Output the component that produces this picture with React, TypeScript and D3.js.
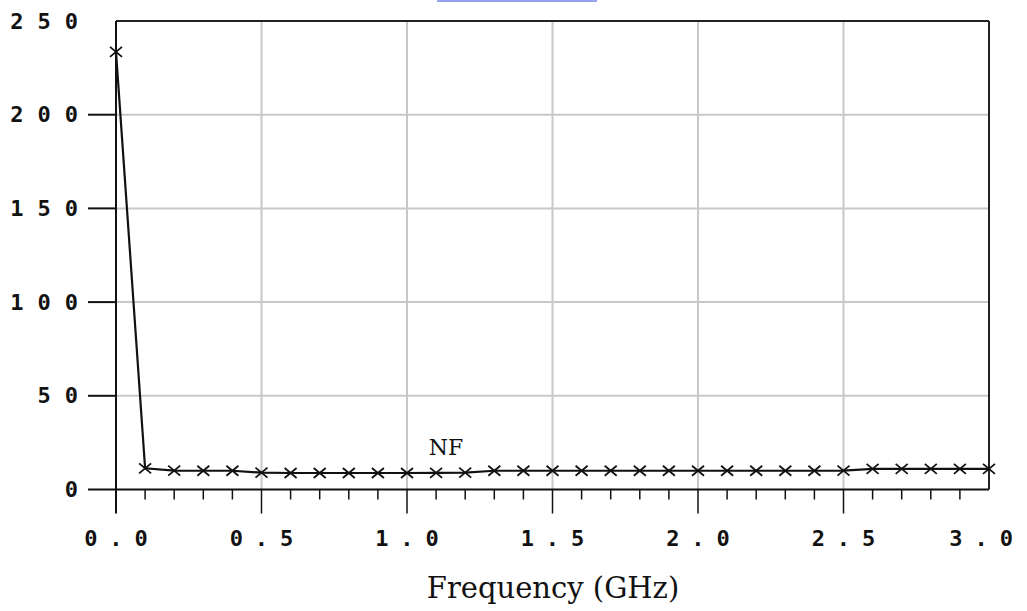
import React from "react";
import * as d3 from "d3";

// Noise figure vs frequency
const freqs = [
  0.0, 0.1, 0.2, 0.3, 0.4, 0.5, 0.6, 0.7, 0.8, 0.9, 1.0, 1.1, 1.2, 1.3, 1.4, 1.5,
  1.6, 1.7, 1.8, 1.9, 2.0, 2.1, 2.2, 2.3, 2.4, 2.5, 2.6, 2.7, 2.8, 2.9, 3.0,
];
const nfValues = [
  233.5, 11.3, 10.1, 10.0, 10.0, 9.0, 8.8, 8.8, 8.8, 8.8, 8.8, 8.9, 9.0, 10.0, 10.0, 10.0,
  10.0, 10.0, 10.0, 10.0, 10.0, 10.0, 10.0, 10.0, 10.0, 10.1, 11.0, 11.0, 11.0, 11.0, 11.0,
];
const yTicks = [0, 50, 100, 150, 200, 250];
const xTicks = [0, 0.5, 1.0, 1.5, 2.0, 2.5, 3.0];
const minorTicks = d3.range(1, 30).map((i) => i / 10);
const seriesName = "NF";
const xTitle = "Frequency (GHz)";

const W = 1027;
const H = 611;
const margin = { top: 21, right: 38, bottom: 121.5, left: 116 };

export default function App() {
  const x = d3
    .scaleLinear()
    .domain([0, 3])
    .range([margin.left, W - margin.right]);
  const y = d3
    .scaleLinear()
    .domain([0, 250])
    .range([H - margin.bottom, margin.top]);

  const line = d3
    .line<number>()
    .x((d, i) => x(freqs[i]))
    .y((d) => y(d));

  const x0 = x(0);
  const x1 = x(3);
  const y0 = y(0);
  const y1 = y(250);
  const labelFont = "'DejaVu Sans Mono', monospace";
  const yLs = 14;
  const xLs = 12;

  return (
    <svg
      width={W}
      height={H}
      style={{ position: "absolute", left: 0, top: 0, background: "#fff" }}
    >
      <rect x={0} y={0} width={W} height={H} fill="#fff" />
      <rect x={437} y={0} width={160} height={2} fill="#94a3ee" />

      {/* grid */}
      {xTicks.slice(1, -1).map((t) => (
        <line key={"gx" + t} x1={x(t)} x2={x(t)} y1={y1} y2={y0} stroke="#c8c8c8" strokeWidth={2} />
      ))}
      {yTicks.slice(1, -1).map((t) => (
        <line key={"gy" + t} x1={x0} x2={x1} y1={y(t)} y2={y(t)} stroke="#c8c8c8" strokeWidth={2} />
      ))}

      {/* frame and axes */}
      <line x1={x0} x2={x1} y1={y1} y2={y1} stroke="#222" strokeWidth={2} />
      <line x1={x1} x2={x1} y1={y1} y2={y0} stroke="#222" strokeWidth={2} />
      <line x1={x0} x2={x0} y1={y1} y2={y0 + 24} stroke="#111" strokeWidth={2} />
      <line x1={x0 - 28} x2={x1} y1={y0} y2={y0} stroke="#111" strokeWidth={2} />

      {yTicks.slice(1, -1).map((t) => (
        <line key={"ty" + t} x1={x0 - 28} x2={x0} y1={y(t)} y2={y(t)} stroke="#111" strokeWidth={2} />
      ))}
      {minorTicks.map((t) => {
        const major = Math.abs(t * 2 - Math.round(t * 2)) < 1e-6;
        return (
          <line
            key={"tx" + t}
            x1={x(t)}
            x2={x(t)}
            y1={y0}
            y2={y0 + (major ? 24 : 10)}
            stroke="#111"
            strokeWidth={1.5}
          />
        );
      })}

      {/* tick labels */}
      {yTicks.map((t) => (
        <text
          key={"ly" + t}
          x={78 + yLs}
          y={y(t)}
          textAnchor="end"
          dominantBaseline="central"
          fontFamily={labelFont}
          fontSize={22}
          fontWeight="bold"
          letterSpacing={yLs}
          fill="#111"
        >
          {String(t)}
        </text>
      ))}
      {xTicks.map((t, i) => {
        const last = i === xTicks.length - 1;
        return (
          <text
            key={"lx" + t}
            x={last ? 1013 + xLs : x(t) + xLs / 2}
            y={538}
            textAnchor={last ? "end" : "middle"}
            dominantBaseline="central"
            fontFamily={labelFont}
            fontSize={22}
            fontWeight="bold"
            letterSpacing={xLs}
            fill="#111"
          >
            {d3.format(".1f")(t)}
          </text>
        );
      })}

      {/* series */}
      <path d={line(nfValues) || ""} fill="none" stroke="#111" strokeWidth={2.2} />
      {nfValues.map((v, i) => {
        const cx = x(freqs[i]);
        const cy = y(v);
        return (
          <g key={"m" + i} transform={`translate(${cx},${cy})`} stroke="#111" strokeWidth={1.8}>
            <line x1={-6} y1={-5} x2={6} y2={5} />
            <line x1={-6} y1={5} x2={6} y2={-5} />
          </g>
        );
      })}

      <text x={446} y={455} textAnchor="middle" fontFamily="'DejaVu Serif', serif" fontSize={22} fill="#111">
        {seriesName}
      </text>

      <text x={553} y={598} textAnchor="middle" fontFamily="'DejaVu Serif', serif" fontSize={29} fill="#111">
        {xTitle}
      </text>
    </svg>
  );
}
